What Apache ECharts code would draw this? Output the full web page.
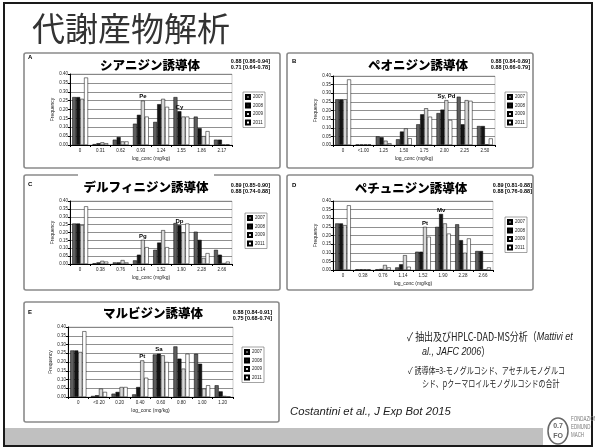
<!DOCTYPE html>
<html><head><meta charset="utf-8">
<script src="https://cdn.jsdelivr.net/npm/echarts@6/dist/echarts.min.js"></script>
<style>html,body{margin:0;padding:0;background:#fff}#c{width:595px;height:448px}</style>
</head><body><div id="c"></div><script>
// ---------- data ----------
const years = ['2007','2008','2009','2011'];
const yTicks = ['0.00','0.05','0.10','0.15','0.20','0.25','0.30','0.35','0.40'];

const catsA = ['0','0.31','0.62','0.93','1.24','1.55','1.86','2.17'];
const a2007 = [0.27,0.005,0.03,0.12,0.13,0.27,0.16,0.03];
const a2008 = [0.27,0.01,0.045,0.17,0.23,0.19,0.095,0.03];
const a2009 = [0.26,0.015,0.02,0.25,0.26,0.16,0.05,0.002];
const a2011 = [0.38,0.01,0.02,0.16,0.215,0.16,0.078,0.003];
const notesA = [[3,2,'Pe'],[5,1,'Cy']];
const statsA = ['0.88 [0.86-0.94]','0.71 [0.64-0.78]'];

const catsB = ['0','<1.00','1.25','1.50','1.75','2.00','2.25','2.50'];
const b2007 = [0.265,0.003,0.05,0.033,0.12,0.185,0.28,0.11];
const b2008 = [0.265,0.003,0.045,0.078,0.178,0.205,0.12,0.11];
const b2009 = [0.265,0.003,0.025,0.096,0.213,0.26,0.26,0.004];
const b2011 = [0.38,0.003,0.01,0.039,0.164,0.145,0.256,0.038];
const notesB = [[5,2,'Sy, Pd']];
const statsB = ['0.88 [0.84-0.89]','0.88 [0.66-0.79]'];

const catsC = ['0','0.38','0.76','1.14','1.52','1.90','2.28','2.66'];
const c2007 = [0.257,0.005,0.01,0.023,0.09,0.26,0.205,0.09];
const c2008 = [0.257,0.01,0.01,0.059,0.136,0.247,0.153,0.059];
const c2009 = [0.247,0.02,0.025,0.153,0.215,0.2,0.038,0.006];
const c2011 = [0.366,0.015,0.01,0.107,0.107,0.257,0.069,0.015];
const notesC = [[3,2,'Pg'],[5,1,'Dp']];
const statsC = ['0.89 [0.85-0.90]','0.88 [0.74-0.88]'];

const catsD = ['0','0.38','0.76','1.14','1.52','1.90','2.28','2.66'];
const d2007 = [0.27,0.004,0.004,0.015,0.106,0.25,0.265,0.11];
const d2008 = [0.27,0.004,0.006,0.033,0.106,0.325,0.173,0.11];
const d2009 = [0.26,0.004,0.029,0.086,0.25,0.27,0.1,0.004];
const d2011 = [0.375,0.004,0.015,0.019,0.193,0.211,0.183,0.015];
const notesD = [[4,2,'Pt'],[5,1,'Mv']];
const statsD = ['0.89 [0.81-0.88]','0.88 [0.76-0.88]'];

const catsE = ['0','<0.20','0.20','0.40','0.60','0.80','1.00','1.20'];
const e2007 = [0.266,0.006,0.019,0.015,0.243,0.289,0.247,0.067];
const e2008 = [0.266,0.01,0.029,0.057,0.247,0.219,0.19,0.032];
const e2009 = [0.257,0.048,0.057,0.209,0.238,0.162,0.048,0.006];
const e2011 = [0.376,0.029,0.057,0.11,0.2,0.247,0.067,0.002];
const notesE = [[3,2,'Pt'],[4,1,'Sa']];
const statsE = ['0.88 [0.84-0.91]','0.75 [0.68-0.74]'];

// ---------- layout ----------
const panels = [
 {L:'A', title:'シアニジン誘導体', cats:catsA, vals:[a2007,a2008,a2009,a2011], notes:notesA, stats:statsA,
  box:[24,53,256,115], grid:[70,74,162,71], leg:[243,92], tXY:[150,65], tW:110, cover:false, lXY:[28,57], sX:270, sY:61},
 {L:'B', title:'ペオニジン誘導体', cats:catsB, vals:[b2007,b2008,b2009,b2011], notes:notesB, stats:statsB,
  box:[287,53,246,115], grid:[333,76,162,69], leg:[505,92], tXY:[418,65], tW:106, cover:false, lXY:[292,61], sX:530, sY:61},
 {L:'C', title:'デルフィニジン誘導体', cats:catsC, vals:[c2007,c2008,c2009,c2011], notes:notesC, stats:statsC,
  box:[24,175,256,115], grid:[70,201,162,63], leg:[245,213], tXY:[146,187], tW:124, cover:true, lXY:[28,184], sX:270, sY:185},
 {L:'D', title:'ペチュニジン誘導体', cats:catsD, vals:[d2007,d2008,d2009,d2011], notes:notesD, stats:statsD,
  box:[287,175,246,115], grid:[333,201,160,69], leg:[505,217], tXY:[411,188], tW:114, cover:false, lXY:[292,185], sX:532, sY:185},
 {L:'E', title:'マルビジン誘導体', cats:catsE, vals:[e2007,e2008,e2009,e2011], notes:notesE, stats:statsE,
  box:[24,302,255,120], grid:[68,327,165,70], leg:[242,347], tXY:[153,313], tW:106, cover:false, lXY:[28,312], sX:272, sY:312}
];
const xName = 'log_conc (mg/kg)';
const yearColors = ['#5e5e5e','#141414','#d6d6d6','#ffffff'];
const CJK = '"Noto Sans CJK JP", "Noto Sans", sans-serif';
const LAT = '"Liberation Sans", Arial, sans-serif';

const grids=[], xAxes=[], yAxes=[], series=[], legends=[], graphics=[];
graphics.push({type:'rect', shape:{x:4,y:3,width:588,height:443}, style:{fill:'none', stroke:'#1a1a1a', lineWidth:2}, z:-5});
graphics.push({type:'rect', shape:{x:5,y:428,width:538,height:17}, style:{fill:'#c0c0c0'}, z:-4});
graphics.push({type:'text', style:{text:'代謝産物解析', x:32, y:28, textVerticalAlign:'middle', font:'33px '+CJK, fill:'#333'}});

panels.forEach((p,i)=>{
  grids.push({left:p.grid[0], top:p.grid[1], width:p.grid[2], height:p.grid[3], show:true, borderColor:'#999', borderWidth:0.5, backgroundColor:'#fff'});
  xAxes.push({type:'category', gridIndex:i, data:p.cats, name:xName, nameLocation:'middle', nameGap:11,
    nameTextStyle:{fontSize:5, fontFamily:LAT, color:'#222'},
    axisLine:{lineStyle:{color:'#000', width:1}}, axisTick:{show:true, length:2, lineStyle:{color:'#000'}},
    axisLabel:{fontSize:4.5, interval:0, margin:3, color:'#222', fontFamily:LAT}});
  yAxes.push({type:'value', gridIndex:i, min:0, max:0.40, interval:0.05, name:'Frequency', nameLocation:'middle', nameGap:15, nameRotate:90,
    nameTextStyle:{fontSize:5, fontFamily:LAT, color:'#222'},
    axisLine:{show:true, lineStyle:{color:'#000', width:1}}, axisTick:{show:true, length:2, lineStyle:{color:'#000'}},
    axisLabel:{fontSize:4.5, margin:2, color:'#222', fontFamily:LAT, formatter:(v)=>yTicks[Math.round(v/0.05)] || ''},
    splitLine:{show:true, lineStyle:{color:'#444', width:0.6}}});
  p.vals.forEach((vals,si)=>{
    series.push({type:'bar', name:years[si], xAxisIndex:i, yAxisIndex:i, barGap:'0%', barCategoryGap:'22%',
      itemStyle:{color:yearColors[si], borderColor:'#000', borderWidth:0.5},
      data: vals.map((v,ci)=>{
        const n = p.notes.find(n=>n[0]===ci && n[1]===si);
        return n ? {value:v, label:{show:true, position:'top', formatter:n[2], fontSize:6, fontWeight:'bold', distance:1, color:'#000', fontFamily:LAT}} : v;
      })});
  });
  legends.push({data:years, left:p.leg[0], top:p.leg[1], orient:'vertical', itemWidth:4, itemHeight:4, itemGap:2.5,
    padding:[2,2,2,2], borderColor:'#666', borderWidth:0.6, backgroundColor:'#fff', selectedMode:false,
    textStyle:{fontSize:4.5, color:'#222', fontFamily:LAT, padding:[0,0,0,-2]}, icon:'rect'});
  graphics.push({type:'rect', shape:{x:p.box[0], y:p.box[1], width:p.box[2], height:p.box[3], r:2}, style:{fill:'none', stroke:'#8a8a8a', lineWidth:1.6}, z:-3});
  if (p.cover) graphics.push({type:'rect', shape:{x:p.tXY[0]-p.tW/2-6, y:p.tXY[1]-14, width:p.tW+12, height:22}, style:{fill:'#fff'}, z:-2});
  graphics.push({type:'text', style:{text:p.title, x:p.tXY[0], y:p.tXY[1], textAlign:'center', textVerticalAlign:'middle', font:'900 12.5px '+CJK, fill:'#000'}});
  graphics.push({type:'text', style:{text:p.L, x:p.lXY[0], y:p.lXY[1], textVerticalAlign:'middle', font:'bold 6px '+LAT, fill:'#000'}});
  graphics.push({type:'text', style:{text:p.stats[0], x:p.sX, y:p.sY, textAlign:'right', textVerticalAlign:'middle', font:'bold 5.5px '+LAT, fill:'#000'}});
  graphics.push({type:'text', style:{text:p.stats[1], x:p.sX, y:p.sY+6.5, textAlign:'right', textVerticalAlign:'middle', font:'bold 5.5px '+LAT, fill:'#000'}});
});

// right-bottom notes
graphics.push({type:'text', x:407, y:337, scaleX:0.78, style:{x:0, y:0, textVerticalAlign:'middle', fill:'#222',
  text:'{n|✓ 抽出及びHPLC-DAD-MS分析（}{i|Mattivi et}',
  rich:{n:{fontSize:11.5, fontFamily:CJK, fill:'#222'}, i:{fontSize:11.5, fontStyle:'italic', fontFamily:LAT, fill:'#222'}}}});
graphics.push({type:'text', x:422, y:352, scaleX:0.78, style:{x:0, y:0, textVerticalAlign:'middle', fill:'#222',
  text:'{i|al., JAFC 2006}{n|）}',
  rich:{n:{fontSize:11.5, fontFamily:CJK, fill:'#222'}, i:{fontSize:11.5, fontStyle:'italic', fontFamily:LAT, fill:'#222'}}}});
graphics.push({type:'text', x:408, y:370, scaleX:0.74, style:{x:0, y:0, textVerticalAlign:'middle', text:'✓ 誘導体=3-モノグルコシド、アセチルモノグルコ', font:'9.5px '+CJK, fill:'#222'}});
graphics.push({type:'text', x:422, y:383, scaleX:0.74, style:{x:0, y:0, textVerticalAlign:'middle', text:'シド、pクーマロイルモノグルコシドの合計', font:'9.5px '+CJK, fill:'#222'}});
graphics.push({type:'text', x:290, y:412, style:{x:0, y:0, textVerticalAlign:'middle', text:'Costantini et al., J Exp Bot 2015', font:'italic 11.3px '+LAT, fill:'#222'}});
// logo
graphics.push({type:'ellipse', shape:{cx:558, cy:431, rx:10, ry:13}, style:{fill:'#fff', stroke:'#666', lineWidth:1.5}});
graphics.push({type:'text', style:{text:'0.7', x:558, y:426, textAlign:'center', textVerticalAlign:'middle', font:'bold 7px '+LAT, fill:'#666'}});
graphics.push({type:'text', style:{text:'FO', x:558, y:436, textAlign:'center', textVerticalAlign:'middle', font:'bold 7px '+LAT, fill:'#666'}});
['FONDAZIONE','EDMUND','MACH'].forEach((t,k)=>{
  graphics.push({type:'text', x:571, y:419+k*8, scaleX:0.68, style:{x:0, y:0, text:t, textVerticalAlign:'middle', font:'6.5px '+LAT, fill:'#777'}});
});

const chart = echarts.init(document.getElementById('c'));
chart.setOption({animation:false, backgroundColor:'#fff', grid:grids, xAxis:xAxes, yAxis:yAxes, series:series, legend:legends, graphic:graphics});
</script></body></html>
